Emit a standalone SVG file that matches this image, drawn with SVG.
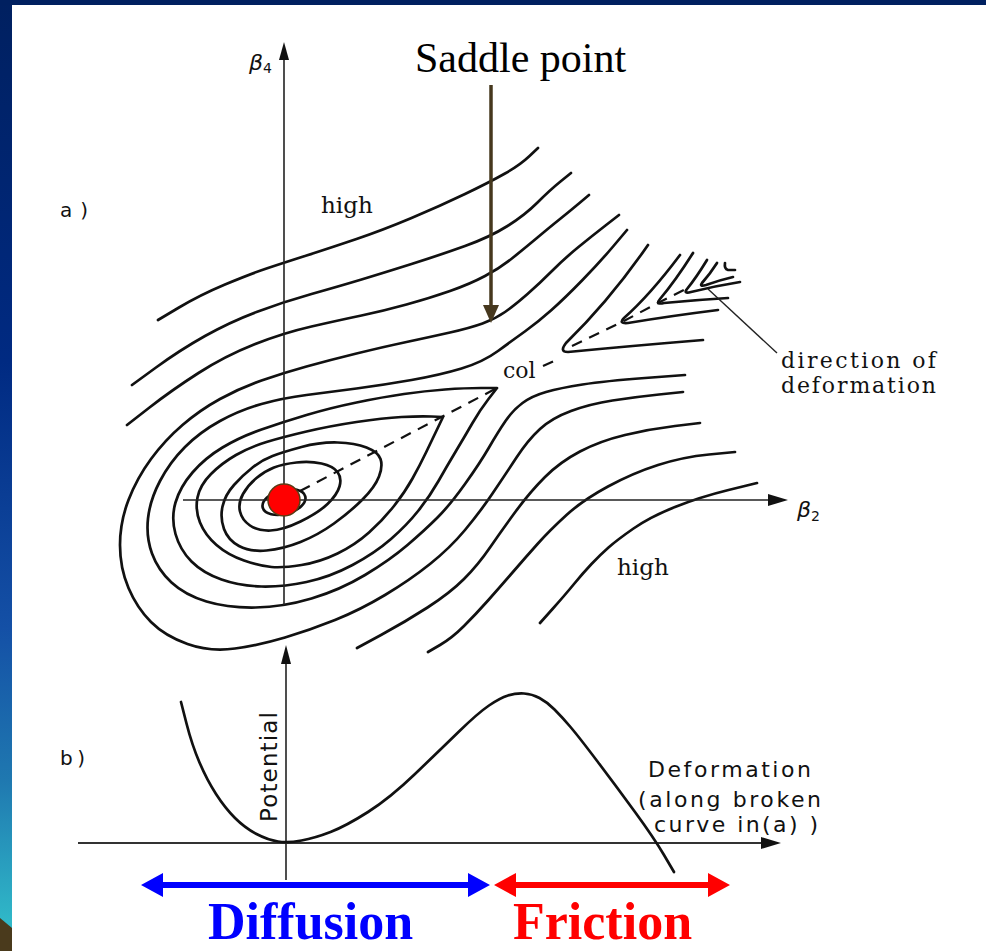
<svg xmlns="http://www.w3.org/2000/svg" width="986" height="951" viewBox="0 0 986 951">
<defs>
<linearGradient id="edge" x1="0" y1="0" x2="0" y2="951" gradientUnits="userSpaceOnUse">
<stop offset="0" stop-color="#002060"/>
<stop offset="0.38" stop-color="#002a82"/>
<stop offset="0.66" stop-color="#1450a6"/>
<stop offset="0.82" stop-color="#1f78b0"/>
<stop offset="0.97" stop-color="#30b8c8"/>
</linearGradient>
</defs>
<style>
.c{fill:none;stroke:#111;stroke-width:2.7;stroke-linecap:round;stroke-linejoin:round}
.ax{fill:none;stroke:#222;stroke-width:1.6}
.ah{fill:#111}
.dash{fill:none;stroke:#111;stroke-width:2.2;stroke-dasharray:11 8}
.ser{font-family:"DejaVu Serif","Liberation Serif",serif;fill:#111}
.sans{font-family:"DejaVu Sans","Liberation Sans",sans-serif;fill:#111}
.big{font-family:"Liberation Serif","Times New Roman",serif;font-weight:bold;font-size:52px}
</style>
<rect width="986" height="951" fill="#ffffff"/>
<g id="frame">
<rect x="0" y="0" width="12" height="951" fill="url(#edge)"/>
<polygon points="0,918 12,928 12,951 0,951" fill="#4a3a1c"/>
<rect x="0" y="0" width="986" height="5" fill="#002060"/>
</g>
<g id="contours">
<path id="U1" class="c" d="M158,320 L179,307.5 Q200,295 225,284.5 Q250,274 266.5,268.5 Q283,263 306.5,255.5 Q330,248 356.5,239 Q383,230 411.5,218 Q440,206 465,194 Q490,182 505,173.5 Q520,165 529,156.5 L538,148"/>
<path id="U2" class="c" d="M132,385 L156,367.5 Q180,350 205,336 Q230,322 256.5,312 Q283,302 311.5,294 Q340,286 361.5,279.5 Q383,273 411.5,264 Q440,255 465,246 Q490,237 507.5,226 Q525,215 537.5,202.5 Q550,190 560.5,181.5 L571,173"/>
<path id="U3" class="c" d="M127,425 L149.5,407.5 Q172,390 198.5,373 Q225,356 254,344.5 Q283,333 311.5,326.5 Q340,320 361.5,315.5 Q383,311 406.5,304.5 Q430,298 450,291 Q470,284 485,276 Q500,268 512.5,258 Q525,248 537.5,237.5 Q550,227 560,219 Q570,211 579.5,203 L589,195"/>
<path id="U4" class="c" d="M619,215 L605.5,225.5 Q592,236 578.5,247 Q565,258 552.5,270.5 Q540,283 527.5,294 Q515,305 505,312 Q495,319 482.5,323.5 Q470,328 450,332.5 Q430,337 406.5,342 Q383,347 356.5,353.5 Q330,360 306.5,366.5 Q283,373 261.5,380.5 Q240,388 220,399 Q200,410 182.5,425 Q165,440 151,459 Q137,478 128.5,500 Q120,522 120,545 Q120,568 128.5,588 Q137,608 151,622 Q165,636 187.5,644 Q210,652 235,648.5 Q260,645 285,637.5 Q310,630 335,620 Q360,610 385,595 Q410,580 430,564 Q450,548 465,530 Q480,512 492.5,493.5 Q505,475 516.5,457.5 Q528,440 540,429 Q552,418 571,411 Q590,404 612.5,400.5 Q635,397 659,394.5 L683,392"/>
<path id="U5" class="c" d="M627,230 L613.5,246 Q600,262 582.5,280 Q565,298 551.5,310 Q538,322 525.5,331 Q513,340 498,351 Q483,362 461.5,368.5 Q440,375 411.5,380 Q383,385 356.5,388.5 Q330,392 306.5,395 Q283,398 261.5,404 Q240,410 220,421 Q200,432 185,447 Q170,462 160,481 Q150,500 148,518.5 Q146,537 152,553.5 Q158,570 171.5,582.5 Q185,595 206.5,601.5 Q228,608 255.5,607.5 Q283,607 311.5,598.5 Q340,590 365,575 Q390,560 407.5,545 Q425,530 437.5,517.5 Q450,505 465,484 Q480,463 489,447.5 Q498,432 505.5,421 Q513,410 522.5,403 Q532,396 546,392 Q560,388 582.5,384.5 Q605,381 645,378 L685,375"/>
<path id="T1" class="c" d="M497,388 L481,388 Q465,388 445,389.5 Q425,391 404,394 Q383,397 356.5,402.5 Q330,408 306.5,415 Q283,422 261.5,429.5 Q240,437 222.5,447.5 Q205,458 192.5,472.5 Q180,487 175.5,502.5 Q171,518 175.5,534 Q180,550 191.5,561.5 Q203,573 221.5,579.5 Q240,586 261.5,586.5 Q283,587 306.5,582 Q330,577 352.5,565 Q375,553 391,539 Q407,525 418.5,510.5 Q430,496 438.5,481 Q447,466 456,451 Q465,436 472.5,423 Q480,410 488.5,399 L497,388 Z"/>
<path id="T2" class="c" d="M443,417 L431.5,416.5 Q420,416 401.5,417 Q383,418 356.5,422 Q330,426 306.5,431.5 Q283,437 266.5,442 Q250,447 236,455 Q222,463 211,474 Q200,485 197.5,497.5 Q195,510 200,522.5 Q205,535 216.5,545 Q228,555 244,560.5 Q260,566 271.5,567 Q283,568 301.5,565 Q320,562 337.5,553.5 Q355,545 369,532.5 Q383,520 394,506 Q405,492 412.5,478.5 Q420,465 426,452.5 Q432,440 437.5,428.5 L443,417 Z"/>
<path id="E3" class="c" d="M272.5,456 Q283,452 301.5,447 Q320,442 337.5,442.5 Q355,443 366.5,447.5 Q378,452 380.5,459 Q383,466 379,476.5 Q375,487 362.5,499.5 Q350,512 334,523.5 Q318,535 300.5,542 Q283,549 266.5,550.5 Q250,552 239,546 Q228,540 224,529 Q220,518 222.5,506.5 Q225,495 234,485 Q243,475 252.5,467.5 Q262,460 272.5,456 Z"/>
<path id="E4" class="c" d="M274,467.5 Q283,464 296.5,462.5 Q310,461 321.5,463.5 Q333,466 337.5,472 Q342,478 339.5,486.5 Q337,495 327.5,504 Q318,513 300.5,521.5 Q283,530 270.5,530.5 Q258,531 250,525.5 Q242,520 240,511.5 Q238,503 243,494 Q248,485 256.5,478 Q265,471 274,467.5 Z"/>
<ellipse id="E5" class="c" cx="284" cy="502" rx="22" ry="12" transform="rotate(-15 284 502)"/>
<path id="L3" class="c" d="M357,648 L381,635 Q405,622 427.5,607.5 Q450,593 464,579 Q478,565 490,547.5 Q502,530 516,511 Q530,492 545,477 Q560,462 580,451.5 Q600,441 625,435 Q650,429 675,426 L700,423"/>
<path id="L4" class="c" d="M428,652 L440,645 Q452,638 464,626 Q476,614 488,600.5 Q500,587 512.5,572.5 Q525,558 537.5,544 Q550,530 566.5,515 Q583,500 608,486.5 Q633,473 658,465 Q683,457 709,454.5 L735,452"/>
<path id="L5" class="c" d="M540,623 L552.5,609 Q565,595 574,584 Q583,573 591.5,564 Q600,555 608.5,547.5 Q617,540 633.5,528.5 Q650,517 675,507 Q700,497 728.5,490 L757,483"/>
<path id="V1" class="c" d="M648,245 Q610,300 566,343 Q559,352 568,352 Q630,346 703,340"/>
<path id="V2" class="c" d="M680,255 Q650,295 624,318 Q618,324 628,323 Q670,316 718,310"/>
<path id="V3" class="c" d="M693,253 Q676,280 660,299 Q655,305 664,303 Q695,300 728,298"/>
<path id="V4" class="c" d="M707,260 Q696,278 687,289 Q683,294 691,292 Q715,286 740,282"/>
<path id="V5" class="c" d="M717,263 Q710,274 702,283 Q699,287 706,285 Q720,280 733,277"/>
<path id="V6" class="c" d="M725,263 Q724,269 728,270 L735,270"/>
</g>
<g id="valley" fill="none">
<path class="dash" d="M300,491 L497,388"/>
<path class="dash" d="M543,366 L554,361"/>
<path class="dash" d="M572,346 L622,322 L656,304 L684,290" stroke-dasharray="12 9"/>
<path d="M708,289 L777,353" stroke="#222" stroke-width="1.4"/>
</g>
<g id="axes-a">
<path class="ax" d="M284,605 L284,58"/>
<polygon class="ah" points="284,42 279,60 289,60"/>
<path class="ax" d="M183,500 L770,500"/>
<polygon class="ah" points="788,500 768,494 768,506"/>
</g>
<g id="minimum">
<circle cx="284" cy="500" r="16" fill="#ff0000" stroke="#5a3c14" stroke-width="1.5"/>
</g>
<g id="saddle-arrow">
<path d="M491,85 L491,308" stroke="#46381e" stroke-width="3.5" fill="none"/>
<polygon points="483,305 499,305 491,323" fill="#46381e"/>
</g>
<g id="axes-b">
<path class="ax" d="M286,880 L286,662"/>
<polygon class="ah" points="286,645 281,664 291,664"/>
<path d="M78,843 L762,843" stroke="#333" stroke-width="2" fill="none"/>
<polygon class="ah" points="781,843 761,837 761,849"/>
<path id="potential-curve" class="c" d="M181,702 L186.5,723.5 Q192,745 199.5,762.5 Q207,780 216,794 Q225,808 235,818 Q245,828 256.5,834 Q268,840 278,841.5 Q288,843 301.5,840.5 Q315,838 330.5,832 Q346,826 368,812 Q390,798 415,774 Q440,750 459,731.5 Q478,713 489,705.5 Q500,698 508,695.5 Q516,693 524,693.5 Q532,694 539.5,698 Q547,702 554.5,709.5 Q562,717 570.5,727 Q579,737 597.5,761.5 Q616,786 635,812 Q654,838 664,855 L674,872"/>
</g>
<g id="ranges">
<polygon id="diffusion-arrow" points="141,885 163,873 163,882 468,882 468,873 490,885 468,897 468,888 163,888 163,897" fill="#0000ff"/>
<polygon id="friction-arrow" points="494,885 516,873 516,882 708,882 708,873 730,885 708,897 708,888 516,888 516,897" fill="#ff0000"/>
</g>
<g id="labels">
<text x="415" y="72" font-family="Liberation Serif, Times New Roman, serif" font-size="42" fill="#000">Saddle point</text>
<text class="sans" x="249" y="70" font-size="22" font-style="italic">β<tspan font-size="14" font-style="normal" dy="3">4</tspan></text>
<text class="sans" x="797" y="517" font-size="22" font-style="italic">β<tspan font-size="14" font-style="normal" dy="4">2</tspan></text>
<text class="sans" x="60" y="217" font-size="20" textLength="28" lengthAdjust="spacing">a)</text>
<text class="sans" x="60" y="765" font-size="20" textLength="25" lengthAdjust="spacing">b)</text>
<text class="ser" x="321" y="213" font-size="23">high</text>
<text class="ser" x="617" y="575" font-size="23">high</text>
<text class="ser" x="503" y="378" font-size="22">col</text>
<text class="ser" x="781" y="368" font-size="22" textLength="155" lengthAdjust="spacing">direction of</text>
<text class="ser" x="781" y="393" font-size="22" textLength="155" lengthAdjust="spacing">deformation</text>
<text class="sans" x="648" y="777" font-size="22" textLength="163" lengthAdjust="spacing">Deformation</text>
<text class="sans" x="638" y="807" font-size="22" textLength="183" lengthAdjust="spacing">(along broken</text>
<text class="sans" x="654" y="832" font-size="22" textLength="164" lengthAdjust="spacing">curve in(a) )</text>
<text class="sans" transform="translate(277,822) rotate(-90)" font-size="23" textLength="110" lengthAdjust="spacing">Potential</text>
<text class="big" x="208" y="939" fill="#0000ff">Diffusion</text>
<text class="big" x="513" y="939" fill="#ff0000">Friction</text>
</g>
</svg>
